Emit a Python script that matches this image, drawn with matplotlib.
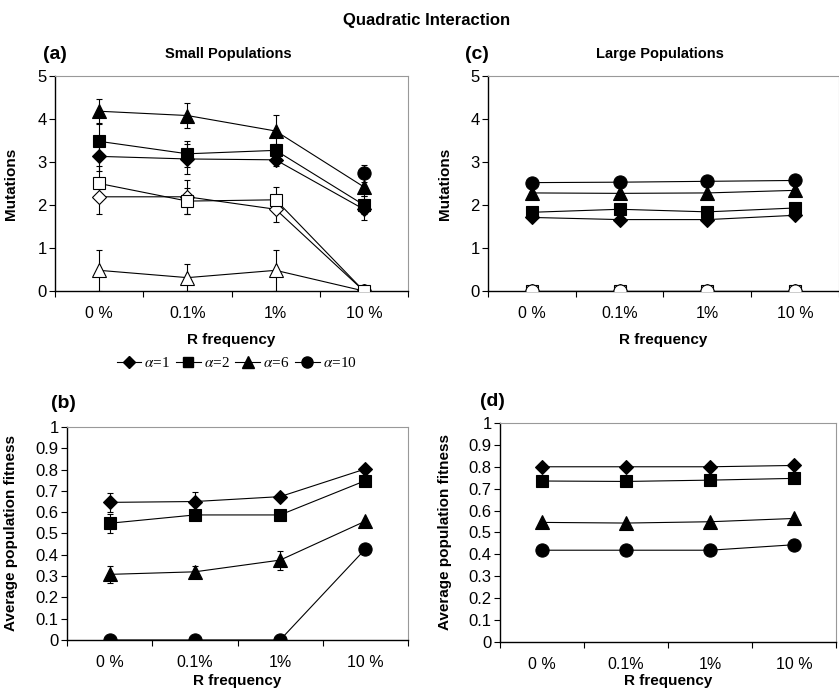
import numpy as np
import matplotlib.pyplot as plt
from matplotlib.lines import Line2D

plt.rcParams['font.family'] = ['Liberation Sans', 'DejaVu Sans']
plt.rcParams['mathtext.fontset'] = 'stix'

freq_labels = ['0 %', '0.1%', '1%', '10 %']
alpha_labels = [r'$\alpha$=1', r'$\alpha$=2', r'$\alpha$=6', r'$\alpha$=10']

# (a) small populations, mutations (filled and open marker series)
small_mut_a1 = [3.13, 3.07, 3.05, 1.90]
small_mut_a2 = [3.48, 3.19, 3.27, 2.00]
small_mut_a6 = [4.18, 4.08, 3.72, 2.42]
small_mut_a10 = [np.nan, np.nan, np.nan, 2.74]
small_mut_a1_err = [0.35, 0.35, 0.15, 0.25]
small_mut_a2_err = [0.40, 0.30, 0.15, 0.20]
small_mut_a6_err = [0.28, 0.30, 0.37, 0.20]
small_mut_a10_err = [0, 0, 0, 0.20]
small_open_a1 = [2.19, 2.19, 1.90, 0.0]
small_open_a2 = [2.50, 2.09, 2.12, 0.0]
small_open_a6 = [0.48, 0.31, 0.48, 0.0]
small_open_a10 = [np.nan, np.nan, np.nan, 0.0]
small_open_a1_err = [0.40, 0.40, 0.30, 0]
small_open_a2_err = [0.40, 0.30, 0.30, 0]
small_open_a6_err = [0.47, 0.32, 0.48, 0]

# (c) large populations, mutations
large_mut_a1 = [1.71, 1.66, 1.66, 1.76]
large_mut_a2 = [1.83, 1.90, 1.84, 1.93]
large_mut_a6 = [2.28, 2.27, 2.28, 2.34]
large_mut_a10 = [2.52, 2.53, 2.55, 2.57]
large_open = [0.0, 0.0, 0.0, 0.0]

# (b) small populations, fitness
small_fit_a1 = [0.646, 0.650, 0.673, 0.803]
small_fit_a2 = [0.548, 0.587, 0.587, 0.748]
small_fit_a6 = [0.308, 0.320, 0.375, 0.558]
small_fit_a10 = [0.0, 0.0, 0.0, 0.427]
small_fit_a1_err = [0.045, 0.045, 0.01, 0.01]
small_fit_a2_err = [0.045, 0.02, 0.02, 0.0]
small_fit_a6_err = [0.04, 0.025, 0.045, 0.0]
small_fit_a10_err = [0.0, 0.0, 0.0, 0.0]

# (d) large populations, fitness
large_fit_a1 = [0.800, 0.800, 0.800, 0.806]
large_fit_a2 = [0.735, 0.733, 0.739, 0.747]
large_fit_a6 = [0.546, 0.543, 0.549, 0.564]
large_fit_a10 = [0.419, 0.419, 0.419, 0.444]

MARKERS = {'a1': ('D', 7.5), 'a2': ('s', 8.5), 'a6': ('^', 10), 'a10': ('o', 9.5)}
KEYS = ['a1', 'a2', 'a6', 'a10']


def series(ax, vals, key, filled=True, err=None):
    """draw one line with its markers and optional error bars"""
    x = np.arange(len(vals)) + 0.5
    m, ms = MARKERS[key]
    face = 'black' if filled else 'white'
    ax.errorbar(x, vals, yerr=err, color='black', lw=0.8, marker=m, ms=ms,
                mfc=face, mec='black', mew=0.8, ecolor='black',
                elinewidth=0.8, capsize=2.5, capthick=0.8, zorder=3)


def style_axes(ax, ymax, step, ylabel, tag, tag_xy, title=None):
    ax.set_xlim(0, 4)
    ax.set_ylim(0, ymax)
    ax.set_xticks(np.arange(5))
    ax.set_xticklabels([])
    ax.set_xticks(np.arange(4) + 0.5, minor=True)
    ax.set_xticklabels(freq_labels, minor=True, fontsize=11.5)
    ax.tick_params(axis='x', which='minor', length=0, pad=11)
    ax.tick_params(axis='x', which='major', length=4, width=0.8)
    ticks = np.round(np.arange(0, ymax + step / 2, step), 2)
    ax.set_yticks(ticks)
    ax.set_yticklabels(['%g' % t for t in ticks], fontsize=12)
    ax.tick_params(axis='y', length=4, width=0.8, pad=2)
    for s in ['top', 'right']:
        ax.spines[s].set_color('#999999')
        ax.spines[s].set_linewidth(0.8)
    for s in ['left', 'bottom']:
        ax.spines[s].set_linewidth(1.0)
    ax.set_xlabel('R frequency', fontsize=11, fontweight='bold')
    ax.set_ylabel(ylabel, fontsize=11, fontweight='bold')
    ax.text(tag_xy[0], tag_xy[1], tag, transform=ax.transAxes, fontsize=14,
            fontweight='bold', ha='center', va='center')
    if title:
        ax.text(0.49, 1.1, title, transform=ax.transAxes, fontsize=10.5,
                fontweight='bold', ha='center', va='center')


fig = plt.figure(figsize=(8.39, 6.90), dpi=100)
ax_a = fig.add_axes([0.0656, 0.5783, 0.4207, 0.3116])
ax_c = fig.add_axes([0.5816, 0.5783, 0.4184, 0.3116])
ax_b = fig.add_axes([0.0799, 0.0725, 0.4064, 0.3087])
ax_d = fig.add_axes([0.5960, 0.0696, 0.4005, 0.3174])

# panel (a)
series(ax_a, small_open_a10, 'a10', filled=False)
series(ax_a, small_open_a6, 'a6', filled=False, err=small_open_a6_err)
series(ax_a, small_open_a1, 'a1', filled=False, err=small_open_a1_err)
series(ax_a, small_open_a2, 'a2', filled=False, err=small_open_a2_err)
series(ax_a, small_mut_a1, 'a1', err=small_mut_a1_err)
series(ax_a, small_mut_a2, 'a2', err=small_mut_a2_err)
series(ax_a, small_mut_a6, 'a6', err=small_mut_a6_err)
series(ax_a, small_mut_a10, 'a10', err=small_mut_a10_err)
style_axes(ax_a, 5, 1, 'Mutations', '(a)', (0.0, 1.1), 'Small Populations')

# panel (c)
for k in ['a2', 'a1', 'a6', 'a10']:
    series(ax_c, large_open, k, filled=False)
for k, v in zip(KEYS, [large_mut_a1, large_mut_a2, large_mut_a6, large_mut_a10]):
    series(ax_c, v, k)
style_axes(ax_c, 5, 1, 'Mutations', '(c)', (-0.03, 1.1), 'Large Populations')

# panel (b)
for k, v, e in zip(KEYS,
                   [small_fit_a1, small_fit_a2, small_fit_a6, small_fit_a10],
                   [small_fit_a1_err, small_fit_a2_err, small_fit_a6_err,
                    small_fit_a10_err]):
    series(ax_b, v, k, err=e)
style_axes(ax_b, 1, 0.1, 'Average population fitness', '(b)', (-0.012, 1.11))

# panel (d)
for k, v in zip(KEYS, [large_fit_a1, large_fit_a2, large_fit_a6, large_fit_a10]):
    series(ax_d, v, k)
style_axes(ax_d, 1, 0.1, 'Average population fitness', '(d)', (-0.024, 1.096))

# label positions
ax_a.yaxis.set_label_coords(-0.105, 0.5)
ax_c.yaxis.set_label_coords(-0.102, 0.5)
ax_b.yaxis.set_label_coords(-0.144, 0.5)
ax_d.yaxis.set_label_coords(-0.143, 0.5)
ax_a.xaxis.set_label_coords(0.5, -0.195)
ax_c.xaxis.set_label_coords(0.5, -0.195)
ax_b.xaxis.set_label_coords(0.5, -0.158)
ax_d.xaxis.set_label_coords(0.5, -0.145)

handles = [Line2D([], [], color='black', lw=0.8, marker=MARKERS[k][0],
                  ms=MARKERS[k][1] - 1.5, mfc='black', mec='black')
           for k in KEYS]
fig.legend(handles, alpha_labels, loc='center', bbox_to_anchor=(0.282, 0.474),
           ncol=4, frameon=False, handlelength=1.6, handletextpad=0.2,
           columnspacing=0.4, prop={'family': 'Liberation Serif', 'size': 11})

fig.text(0.509, 0.971, 'Quadratic Interaction', fontsize=12,
         fontweight='bold', ha='center', va='center')

fig.savefig('out.png', dpi=100)
